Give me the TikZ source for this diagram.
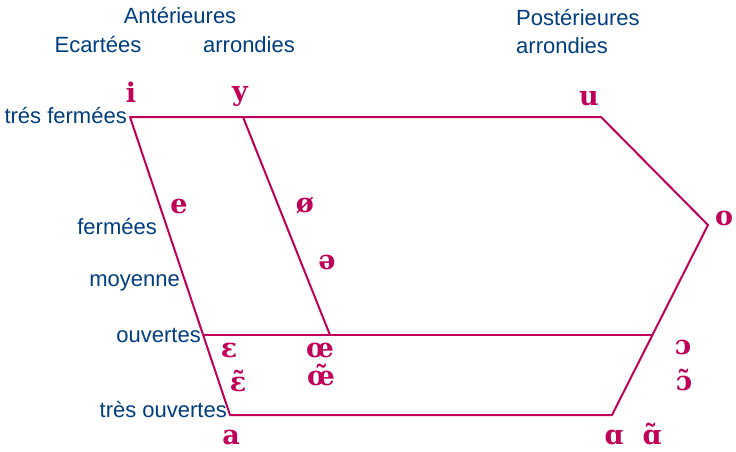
\documentclass[tikz,border=0pt]{standalone}
\usepackage{fontspec}
\setmainfont{Liberation Sans}
\newfontfamily\ipafont{DejaVu Serif}
\usetikzlibrary{positioning}
\definecolor{vowelred}{RGB}{192,0,88}
\definecolor{labelblue}{RGB}{0,61,128}

\begin{document}
\begin{tikzpicture}[
    x=1pt, y=-1pt,
    edge/.style={draw=vowelred, line width=2pt, line join=round},
    vowel/.style={text=vowelred, inner sep=0pt, anchor=base,
                  font=\fontsize{27}{27}\selectfont\ipafont\bfseries},
    head/.style={text=labelblue, inner sep=0pt, anchor=base,
                 font=\fontsize{22}{24}\selectfont},
    degree/.style={head, anchor=base east}
  ]
  \useasboundingbox (0,0) rectangle (736,451);

  % corners of the trapezium
  \coordinate (tl) at (130,117);
  \coordinate (tm) at (243,117);
  \coordinate (tr) at (601,117);
  \coordinate (back) at (708,225);
  \coordinate (ml) at (204,335);
  \coordinate (mm) at (330,335);
  \coordinate (mr) at (653,335);
  \coordinate (bl) at (230,415);
  \coordinate (br) at (612,415);

  \draw[edge] (tl) -- (tr) -- (back) -- (br) -- (bl) -- cycle;
  \draw[edge] (tm) -- (mm);
  \draw[edge] (ml) -- (mr);

  % column headings
  \node[head] (ant) at (180,23) {Antérieures};
  \node[head] (ecart) at (98,52) {Ecartées};
  \node[head] (arrA) at (249,52) {arrondies};
  \node[head, anchor=base west] (post) at (516,25) {Postérieures};
  \node[head, anchor=base west] (arrP) at (516,53) {arrondies};

  % degrees of aperture
  \node[degree] (tf) at (127,123) {trés fermées};
  \node[degree] (ferm) at (157,234) {fermées};
  \node[degree] (moy) at (180,286) {moyenne};
  \node[degree] (ouv) at (201,342) {ouvertes};
  \node[degree] (tou) at (227,417) {très ouvertes};

  % vowels
  \node[vowel] (vi) at (131,102) {i};
  \node[vowel] (vy) at (240,100) {y};
  \node[vowel] (vu) at (589,105) {u};
  \node[vowel] (vo) at (724,225) {o};
  \node[vowel] (ve) at (179,213) {e};
  \node[vowel] (voe) at (305,212) {ø};
  \node[vowel] (vschwa) at (327,269) {ə};
  \node[vowel] (veps) at (229,357) {ɛ};
  \node[vowel] (vepsn) at (238,391) {ɛ̃};
  \node[vowel] (voelig) at (320,357) {œ};
  \node[vowel] (voelign) at (321,385) {œ̃};
  \node[vowel] (vopen) at (683,354) {ɔ};
  \node[vowel] (vopenn) at (684,390) {ɔ̃};
  \node[vowel] (va) at (231,444) {a};
  \node[vowel] (valpha) at (614,444) {ɑ};
  \node[vowel] (valphan) at (652,444) {ɑ̃};
\end{tikzpicture}
\end{document}
